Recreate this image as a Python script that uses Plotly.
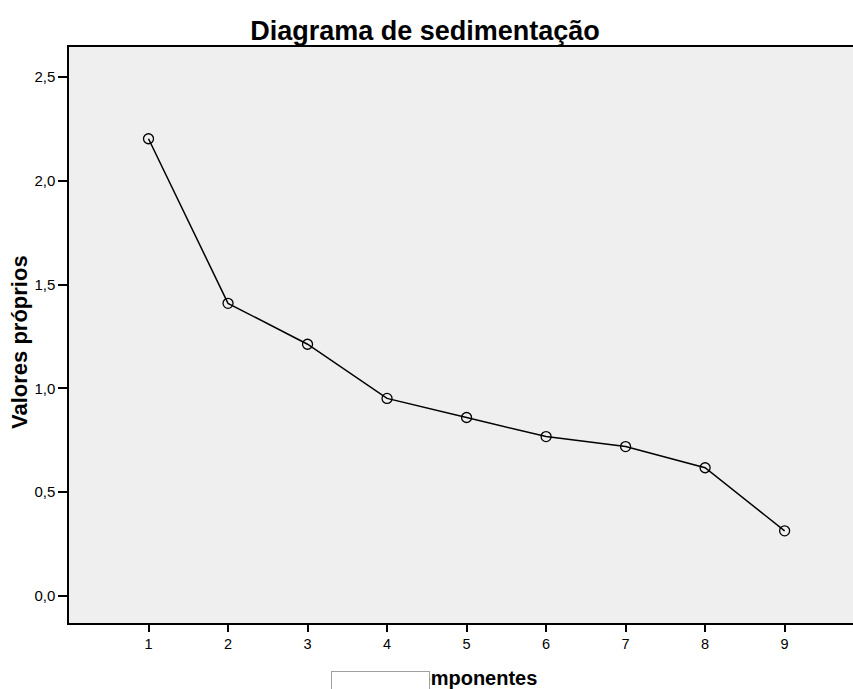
import plotly.graph_objects as go

components = [1, 2, 3, 4, 5, 6, 7, 8, 9]
eigenvalues = [2.203, 1.41, 1.213, 0.952, 0.86, 0.768, 0.72, 0.618, 0.314]
y_tickvals = [0.0, 0.5, 1.0, 1.5, 2.0, 2.5]
y_ticktext = ["0,0", "0,5", "1,0", "1,5", "2,0", "2,5"]

FONT = "Liberation Sans, Arial, sans-serif"
W, H = 853, 689
L, T, R_EDGE, B_EDGE = 69, 47, 853, 623
PW, PH = R_EDGE - L, B_EDGE - T


def px(xp):
    return (xp - L) / PW


def py(yp):
    return (B_EDGE - yp) / PH


fig = go.Figure()
fig.add_trace(go.Scatter(
    x=components, y=eigenvalues, mode="lines+markers",
    line=dict(color="black", width=1.5),
    marker=dict(symbol="circle-open", size=10, color="black", line=dict(width=1.3, color="black")),
    showlegend=False, hoverinfo="skip",
))

fig.update_layout(
    width=W, height=H,
    margin=dict(l=L, r=W - R_EDGE, t=T, b=H - B_EDGE),
    paper_bgcolor="white", plot_bgcolor="#EFEFEF",
    title=dict(text="<b>Diagrama de sedimentação</b>", x=425 / W, xref="container", xanchor="center",
               y=1 - 31 / H, yref="container", yanchor="middle",
               font=dict(family=FONT, size=27, color="black")),
    font=dict(family=FONT, color="black"),
)
fig.update_xaxes(
    range=[0, 9.86], tickvals=components, ticktext=[str(c) for c in components],
    ticks="outside", ticklen=7, tickwidth=1.5, tickcolor="black",
    showline=True, linecolor="black", linewidth=1.5, mirror=True,
    showgrid=False, zeroline=False,
    tickfont=dict(size=14.5, family=FONT, color="black"),
)
fig.update_yaxes(
    range=[-0.13, 2.645], tickvals=y_tickvals, ticktext=y_ticktext,
    ticks="outside", ticklen=9, tickwidth=1.5, tickcolor="black",
    showline=True, linecolor="black", linewidth=1.5, mirror=False,
    showgrid=False, zeroline=False,
    tickfont=dict(size=15, family=FONT, color="black"),
)

fig.add_annotation(text="<b>Componentes</b>", xref="paper", yref="paper",
                   x=px(470), y=py(678), xanchor="center", yanchor="middle",
                   showarrow=False, font=dict(size=20, family=FONT, color="black"))
fig.add_annotation(text="<b>Valores próprios</b>", xref="paper", yref="paper",
                   x=px(19), y=py(342), xanchor="center", yanchor="middle", textangle=-90,
                   showarrow=False, font=dict(size=22, family=FONT, color="black"))

# white box overlapping the x-axis title, as in the reference (drawn on top of it)
fig.add_annotation(text=" ", xref="paper", yref="paper",
                   x=px(331), y=py(671), xanchor="left", yanchor="top",
                   width=97, height=30, borderpad=0, borderwidth=1,
                   bgcolor="white", bordercolor="#A0A0A0", showarrow=False,
                   font=dict(size=10, family=FONT, color="black"))

fig.write_html("out.html",
               config={"displayModeBar": False},
               post_script="document.body.style.margin='0';document.body.style.overflow='hidden';")
